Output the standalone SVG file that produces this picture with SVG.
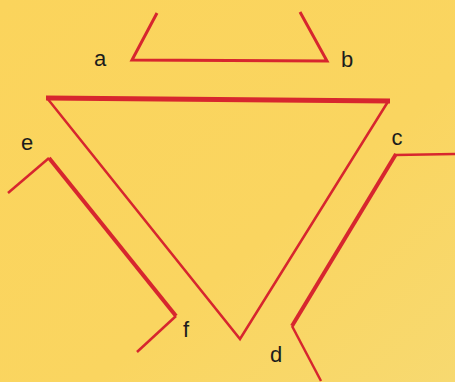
<svg xmlns="http://www.w3.org/2000/svg" width="455" height="382" viewBox="0 0 455 382">
<defs>
<linearGradient id="bg" x1="0" y1="0" x2="1" y2="1">
<stop offset="0" stop-color="#FBD45C"/>
<stop offset="0.6" stop-color="#FAD560"/>
<stop offset="1" stop-color="#F7D970"/>
</linearGradient>
</defs>
<style>
.ln{fill:none;stroke:#D7262E;stroke-linejoin:miter;stroke-linecap:butt}
.lb{font-family:"Liberation Sans",Arial,sans-serif;font-size:22px;fill:#1c1c1c;text-anchor:middle}
</style>
<rect width="455" height="382" fill="url(#bg)"/>
<g id="connectors">
<g id="ab">
<polyline class="ln" stroke-width="3" points="157,13 132,60 327,61 300,12"/>
</g>
<g id="triangle">
<polyline class="ln" stroke-width="2.5" points="389,100 240,339 47,98"/>
<line class="ln" stroke-width="5" x1="46" y1="98" x2="390" y2="101"/>
</g>
<g id="ef">
<polyline class="ln" stroke-width="2.5" points="8,193 49,158"/>
<polyline class="ln" stroke-width="4" points="49,158 176,316"/>
<polyline class="ln" stroke-width="2.5" points="176,316 137,352"/>
</g>
<g id="cd">
<polyline class="ln" stroke-width="2.5" points="455,154 395,155"/>
<polyline class="ln" stroke-width="4" points="396,154 292,326"/>
<polyline class="ln" stroke-width="2.5" points="292,326 321,381"/>
</g>
</g>
<g id="label-a"><text class="lb" x="100" y="66">a</text></g>
<g id="label-b"><text class="lb" x="347" y="67">b</text></g>
<g id="label-c"><text class="lb" x="397" y="145">c</text></g>
<g id="label-d"><text class="lb" x="276" y="362">d</text></g>
<g id="label-e"><text class="lb" x="27" y="150">e</text></g>
<g id="label-f"><text class="lb" x="186" y="337">f</text></g>
</svg>
